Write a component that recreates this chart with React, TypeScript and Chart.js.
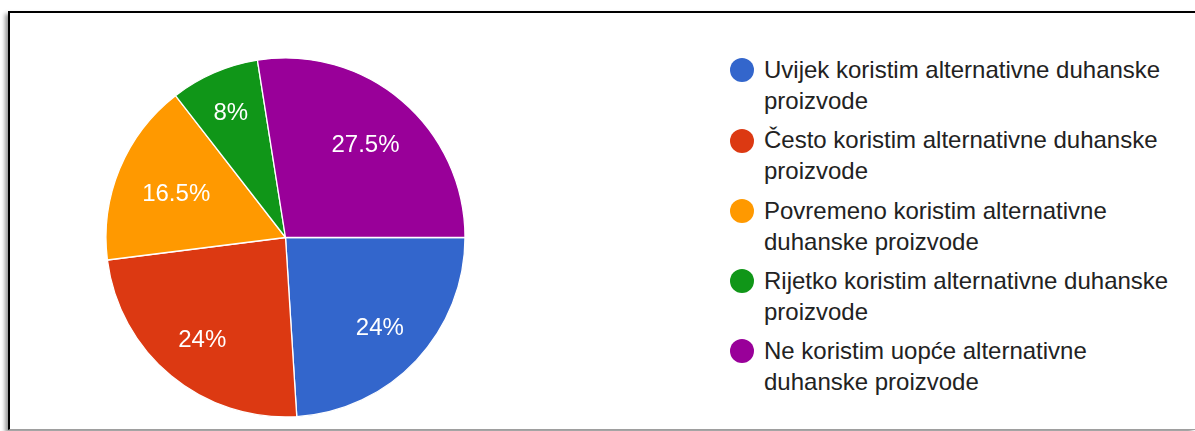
import React, { useEffect, useRef } from "react";
import { Chart, registerables } from "chart.js";

Chart.register(...registerables);

const categories = [
  "Uvijek koristim alternativne duhanske proizvode",
  "Često koristim alternativne duhanske proizvode",
  "Povremeno koristim alternativne duhanske proizvode",
  "Rijetko koristim alternativne duhanske proizvode",
  "Ne koristim uopće alternativne duhanske proizvode",
];
const values = [24, 24, 16.5, 8, 27.5];
const sliceLabels = ["24%", "24%", "16.5%", "8%", "27.5%"];
const colors = ["#3366cc", "#dc3912", "#ff9900", "#109618", "#990099"];

const FONT = '"Liberation Sans", Arial, sans-serif';

const labelPlugin = {
  id: "sliceLabels",
  afterDatasetsDraw(chart: any) {
    const ctx = chart.ctx;
    const meta = chart.getDatasetMeta(0);
    ctx.save();
    ctx.font = `24px ${FONT}`;
    ctx.fillStyle = "#ffffff";
    ctx.textAlign = "center";
    ctx.textBaseline = "alphabetic";
    meta.data.forEach((arc: any, i: number) => {
      const { x, y, startAngle, endAngle, outerRadius } = arc.getProps(
        ["x", "y", "startAngle", "endAngle", "outerRadius"],
        true
      );
      const mid = (startAngle + endAngle) / 2;
      const ux = Math.cos(mid);
      const uy = Math.sin(mid);
      const text = sliceLabels[i];
      const w = ctx.measureText(text).width;
      const h = 24 * 0.716;
      const cx = (Math.sign(ux) * w) / 2;
      const cy = (Math.sign(uy) * h) / 2;
      const R = outerRadius * 0.853;
      const b = ux * cx + uy * cy;
      const c2 = cx * cx + cy * cy;
      const d = -b + Math.sqrt(Math.max(b * b - c2 + R * R, 0));
      const px = x + ux * d;
      const py = y + uy * d;
      ctx.fillText(text, px, py + h / 2);
    });
    ctx.restore();
  },
};

export default function App() {
  const ref = useRef<HTMLCanvasElement | null>(null);

  useEffect(() => {
    document.body.style.overflow = "hidden";
    if (!ref.current) return;
    const chart = new Chart(ref.current, {
      type: "pie",
      data: {
        labels: categories,
        datasets: [
          {
            data: values,
            backgroundColor: colors,
            borderColor: "#ffffff",
            borderWidth: 1.3,
          },
        ],
      },
      options: {
        responsive: false,
        animation: false,
        rotation: 90,
        radius: 179.5,
        layout: { padding: 0 },
        plugins: {
          legend: { display: false },
          tooltip: { enabled: false },
        },
      },
      plugins: [labelPlugin],
    });
    return () => chart.destroy();
  }, []);

  return (
    <div>
      <div
        style={{
          position: "absolute",
          left: 8,
          top: 11,
          width: 1187,
          height: 419,
          boxSizing: "border-box",
          borderTop: "2px solid #000",
          borderLeft: "2px solid #000",
          borderBottom: "1px solid #9e9e9e",
          boxShadow: "-3px 3px 4px rgba(0,0,0,0.4)",
          background: "#fff",
        }}
      />
      <canvas
        ref={ref}
        width={379}
        height={379}
        style={{ position: "absolute", left: 96, top: 48, width: 379, height: 379 }}
      />
      {categories.map((c, i) => (
        <div
          key={i}
          style={{
            position: "absolute",
            left: 730,
            top: 53.9 + i * 70.3,
            width: 450,
            fontFamily: FONT,
            fontSize: 24,
            lineHeight: "31px",
            color: "#222222",
          }}
        >
          <div
            style={{
              position: "absolute",
              left: 0,
              top: 4.4,
              width: 24,
              height: 24,
              borderRadius: "50%",
              background: colors[i],
            }}
          />
          <div style={{ marginLeft: 34, width: 412 }}>{c}</div>
        </div>
      ))}
    </div>
  );
}
